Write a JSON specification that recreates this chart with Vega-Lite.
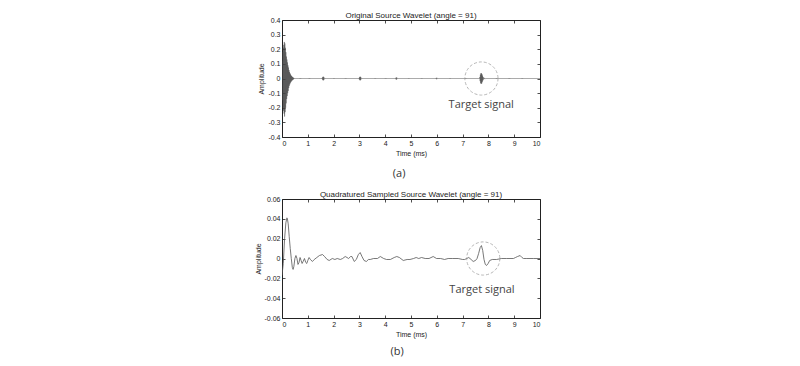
{
  "$schema": "https://vega.github.io/schema/vega-lite/v6.json",
  "padding": {"left": 253, "top": 11, "right": 5, "bottom": 0},
  "background": "white",
  "datasets": {
    "orig": [
      {"t":0.00,"v":0},{"t":0.01,"v":0.12},{"t":0.02,"v":-0.15},{"t":0.03,"v":0.18},{"t":0.04,"v":-0.20},{"t":0.05,"v":0.21},{"t":0.06,"v":-0.22},{"t":0.07,"v":0.23},{"t":0.08,"v":-0.24},{"t":0.09,"v":0.25},{"t":0.10,"v":-0.26},{"t":0.11,"v":0.24},{"t":0.12,"v":-0.23},{"t":0.13,"v":0.21},{"t":0.14,"v":-0.20},{"t":0.15,"v":0.18},{"t":0.16,"v":-0.17},{"t":0.17,"v":0.15},{"t":0.18,"v":-0.14},{"t":0.19,"v":0.13},{"t":0.20,"v":-0.12},{"t":0.21,"v":0.11},{"t":0.22,"v":-0.10},{"t":0.23,"v":0.09},{"t":0.24,"v":-0.085},{"t":0.25,"v":0.075},{"t":0.26,"v":-0.065},{"t":0.27,"v":0.058},{"t":0.28,"v":-0.05},{"t":0.29,"v":0.045},{"t":0.30,"v":-0.04},{"t":0.31,"v":0.036},{"t":0.32,"v":-0.032},{"t":0.33,"v":0.028},{"t":0.34,"v":-0.025},{"t":0.35,"v":0.022},{"t":0.36,"v":-0.02},{"t":0.37,"v":0.017},{"t":0.38,"v":-0.015},{"t":0.39,"v":0.013},{"t":0.40,"v":-0.012},{"t":0.41,"v":0.01},{"t":0.42,"v":-0.009},{"t":0.43,"v":0.007},{"t":0.44,"v":-0.006},{"t":0.45,"v":0.004},{"t":0.46,"v":-0.003},{"t":0.47,"v":0.002},{"t":0.48,"v":0},
      {"t":0.70,"v":0},{"t":0.71,"v":0.003},{"t":0.72,"v":-0.003},{"t":0.73,"v":0},
      {"t":1.05,"v":0},{"t":1.06,"v":0.003},{"t":1.07,"v":-0.003},{"t":1.08,"v":0},
      {"t":1.55,"v":0},{"t":1.56,"v":0.004},{"t":1.57,"v":-0.007},{"t":1.58,"v":0.01},{"t":1.59,"v":-0.012},{"t":1.60,"v":0.013},{"t":1.61,"v":-0.012},{"t":1.62,"v":0.01},{"t":1.63,"v":-0.007},{"t":1.64,"v":0.004},{"t":1.66,"v":0},
      {"t":2.00,"v":0},{"t":2.01,"v":0.003},{"t":2.02,"v":-0.003},{"t":2.03,"v":0},
      {"t":2.45,"v":0},{"t":2.46,"v":0.003},{"t":2.47,"v":-0.003},{"t":2.48,"v":0},
      {"t":2.98,"v":0},{"t":2.99,"v":0.004},{"t":3.00,"v":-0.007},{"t":3.01,"v":0.01},{"t":3.02,"v":-0.012},{"t":3.03,"v":0.013},{"t":3.04,"v":-0.012},{"t":3.05,"v":0.01},{"t":3.06,"v":-0.007},{"t":3.07,"v":0.004},{"t":3.09,"v":0},
      {"t":3.60,"v":0},{"t":3.61,"v":0.003},{"t":3.62,"v":-0.003},{"t":3.63,"v":0},
      {"t":4.00,"v":0},{"t":4.01,"v":0.003},{"t":4.02,"v":-0.003},{"t":4.03,"v":0},
      {"t":4.40,"v":0},{"t":4.41,"v":0.004},{"t":4.42,"v":-0.006},{"t":4.43,"v":0.007},{"t":4.44,"v":-0.007},{"t":4.45,"v":0.006},{"t":4.46,"v":-0.004},{"t":4.48,"v":0},
      {"t":4.90,"v":0},{"t":4.91,"v":0.003},{"t":4.92,"v":-0.003},{"t":4.93,"v":0},
      {"t":5.40,"v":0},{"t":5.41,"v":0.003},{"t":5.42,"v":-0.003},{"t":5.43,"v":0},
      {"t":5.97,"v":0},{"t":5.98,"v":0.004},{"t":5.99,"v":-0.005},{"t":6.00,"v":0.005},{"t":6.01,"v":-0.004},{"t":6.03,"v":0},
      {"t":6.50,"v":0},{"t":6.51,"v":0.003},{"t":6.52,"v":-0.003},{"t":6.53,"v":0},
      {"t":7.10,"v":0},{"t":7.11,"v":0.003},{"t":7.12,"v":-0.003},{"t":7.13,"v":0},
      {"t":7.66,"v":0},{"t":7.67,"v":0.01},{"t":7.68,"v":-0.018},{"t":7.69,"v":0.026},{"t":7.70,"v":-0.032},{"t":7.71,"v":0.036},{"t":7.72,"v":-0.037},{"t":7.73,"v":0.036},{"t":7.74,"v":-0.034},{"t":7.75,"v":0.03},{"t":7.76,"v":-0.025},{"t":7.77,"v":0.02},{"t":7.78,"v":-0.015},{"t":7.79,"v":0.011},{"t":7.80,"v":-0.008},{"t":7.82,"v":0.006},{"t":7.84,"v":-0.004},{"t":7.86,"v":0.003},{"t":7.88,"v":-0.002},{"t":7.90,"v":0},
      {"t":8.30,"v":0},{"t":8.31,"v":0.003},{"t":8.32,"v":-0.003},{"t":8.33,"v":0},
      {"t":8.80,"v":0},{"t":8.81,"v":0.003},{"t":8.82,"v":-0.003},{"t":8.83,"v":0},
      {"t":9.30,"v":0},{"t":9.31,"v":0.003},{"t":9.32,"v":-0.003},{"t":9.33,"v":0},
      {"t":10.0,"v":0}
    ],
    "quad": [
      {"t":0.00,"v":-0.017},{"t":0.05,"v":-0.005},{"t":0.10,"v":0.02},{"t":0.15,"v":0.036},{"t":0.19,"v":0.041},{"t":0.21,"v":0.040},{"t":0.24,"v":0.035},{"t":0.28,"v":0.022},{"t":0.32,"v":0.010},{"t":0.36,"v":0.000},{"t":0.40,"v":-0.009},{"t":0.43,"v":-0.011},{"t":0.46,"v":-0.008},{"t":0.50,"v":0.000},{"t":0.54,"v":0.003},{"t":0.58,"v":0.000},{"t":0.62,"v":-0.006},{"t":0.66,"v":-0.004},{"t":0.70,"v":0.001},{"t":0.74,"v":-0.002},{"t":0.78,"v":-0.005},{"t":0.82,"v":-0.003},{"t":0.87,"v":0.000},{"t":0.92,"v":-0.004},{"t":0.96,"v":-0.005},{"t":1.00,"v":-0.002},{"t":1.05,"v":0.001},{"t":1.10,"v":-0.001},{"t":1.18,"v":-0.003},{"t":1.25,"v":-0.001},{"t":1.35,"v":0.001},{"t":1.45,"v":0.003},{"t":1.57,"v":0.004},{"t":1.65,"v":0.002},{"t":1.75,"v":-0.001},{"t":1.83,"v":-0.002},{"t":1.95,"v":0.000},{"t":2.05,"v":-0.001},{"t":2.14,"v":0.000},{"t":2.26,"v":-0.001},{"t":2.35,"v":0.000},{"t":2.45,"v":0.002},{"t":2.52,"v":0.001},{"t":2.58,"v":0.000},{"t":2.66,"v":0.002},{"t":2.71,"v":0.002},{"t":2.80,"v":-0.003},{"t":2.88,"v":-0.001},{"t":2.96,"v":0.004},{"t":3.03,"v":0.006},{"t":3.10,"v":0.002},{"t":3.18,"v":-0.002},{"t":3.27,"v":-0.003},{"t":3.35,"v":-0.001},{"t":3.42,"v":-0.001},{"t":3.55,"v":0.000},{"t":3.70,"v":0.000},{"t":3.81,"v":0.002},{"t":3.94,"v":0.000},{"t":4.05,"v":-0.001},{"t":4.20,"v":-0.001},{"t":4.35,"v":0.001},{"t":4.45,"v":0.002},{"t":4.55,"v":0.001},{"t":4.70,"v":-0.002},{"t":4.85,"v":-0.001},{"t":4.96,"v":-0.001},{"t":5.10,"v":0.000},{"t":5.20,"v":0.001},{"t":5.30,"v":0.000},{"t":5.41,"v":0.001},{"t":5.55,"v":0.000},{"t":5.70,"v":0.000},{"t":5.86,"v":0.002},{"t":5.99,"v":0.000},{"t":6.15,"v":0.000},{"t":6.30,"v":-0.001},{"t":6.44,"v":0.000},{"t":6.60,"v":0.000},{"t":6.83,"v":0.000},{"t":7.00,"v":-0.001},{"t":7.08,"v":-0.001},{"t":7.24,"v":0.001},{"t":7.33,"v":-0.001},{"t":7.41,"v":-0.003},{"t":7.50,"v":-0.002},{"t":7.56,"v":0.000},{"t":7.62,"v":0.005},{"t":7.68,"v":0.011},{"t":7.73,"v":0.013},{"t":7.78,"v":0.008},{"t":7.83,"v":-0.001},{"t":7.88,"v":-0.006},{"t":7.93,"v":-0.007},{"t":7.99,"v":-0.005},{"t":8.05,"v":-0.002},{"t":8.15,"v":-0.001},{"t":8.32,"v":-0.001},{"t":8.50,"v":0.000},{"t":8.71,"v":0.000},{"t":8.97,"v":0.000},{"t":9.05,"v":0.001},{"t":9.13,"v":0.002},{"t":9.23,"v":0.003},{"t":9.30,"v":0.001},{"t":9.36,"v":0.000},{"t":9.49,"v":0.000},{"t":9.74,"v":0.000},{"t":10.0,"v":0.000}
    ],
    "ann_a": [{"t":7.73,"v":0,"tx":7.72,"ty":-0.18,"label":"Target signal"}],
    "ann_b": [{"t":7.8,"v":0,"tx":7.75,"ty":-0.032,"label":"Target signal"}]
  },
  "vconcat": [
    {
      "title": {"text": "(a)", "orient": "bottom", "anchor": "middle", "font": "Open Sans", "fontSize": 11, "fontWeight": "normal", "color": "#333", "offset": 11},
      "vconcat": [
        {
          "title": {"text": "Original Source Wavelet (angle = 91)"},
          "width": 258,
          "height": 117,
          "layer": [
            {
              "data": {"name": "orig"},
              "mark": {"type": "line", "color": "#444", "strokeWidth": 0.45, "clip": true},
              "encoding": {
                "x": {"field": "t", "type": "quantitative", "scale": {"domain": [0, 10], "nice": false},
                      "axis": {"orient": "bottom", "title": "Time (ms)", "values": [0,1,2,3,4,5,6,7,8,9,10]}},
                "y": {"field": "v", "type": "quantitative", "scale": {"domain": [-0.4, 0.4], "nice": false},
                      "axis": {"orient": "left", "title": "Amplitude", "values": [-0.4,-0.3,-0.2,-0.1,0,0.1,0.2,0.3,0.4], "format": ".1~f", "labelExpr": "replace(datum.label, '\u2212', '-')"}}
              }
            },
            {
              "data": {"name": "ann_a"},
              "mark": {"type": "point", "shape": "circle", "size": 1100, "filled": false, "stroke": "#999", "strokeWidth": 1, "strokeDash": [3, 2]},
              "encoding": {
                "x": {"field": "t", "type": "quantitative", "axis": {"orient": "top", "labels": false, "title": null, "labelPadding": 0, "minExtent": 0, "maxExtent": 0, "values": [0,1,2,3,4,5,6,7,8,9,10]}},
                "y": {"field": "v", "type": "quantitative", "axis": {"orient": "right", "labels": false, "title": null, "labelPadding": 0, "minExtent": 0, "maxExtent": 0, "values": [-0.4,-0.3,-0.2,-0.1,0,0.1,0.2,0.3,0.4]}}
              }
            },
            {
              "data": {"name": "ann_a"},
              "mark": {"type": "text", "font": "Open Sans", "fontSize": 11, "color": "#444"},
              "encoding": {
                "x": {"field": "tx", "type": "quantitative", "axis": null},
                "y": {"field": "ty", "type": "quantitative", "axis": null},
                "text": {"field": "label"}
              }
            }
          ],
          "resolve": {"axis": {"x": "independent", "y": "independent"}}
        }
      ]
    },
    {
      "title": {"text": "(b)", "orient": "bottom", "anchor": "middle", "font": "Open Sans", "fontSize": 11, "fontWeight": "normal", "color": "#333", "offset": 8},
      "vconcat": [
        {
          "title": {"text": "Quadratured Sampled Source Wavelet (angle = 91)"},
          "width": 258,
          "height": 119,
          "layer": [
            {
              "data": {"name": "quad"},
              "mark": {"type": "line", "color": "#555", "strokeWidth": 0.8, "clip": true},
              "encoding": {
                "x": {"field": "t", "type": "quantitative", "scale": {"domain": [0, 10], "nice": false},
                      "axis": {"orient": "bottom", "title": "Time (ms)", "values": [0,1,2,3,4,5,6,7,8,9,10]}},
                "y": {"field": "v", "type": "quantitative", "scale": {"domain": [-0.06, 0.06], "nice": false},
                      "axis": {"orient": "left", "title": "Amplitude", "values": [-0.06,-0.04,-0.02,0,0.02,0.04,0.06], "format": ".2~f", "labelExpr": "replace(datum.label, '\u2212', '-')"}}
              }
            },
            {
              "data": {"name": "ann_b"},
              "mark": {"type": "point", "shape": "circle", "size": 1100, "filled": false, "stroke": "#999", "strokeWidth": 1, "strokeDash": [3, 2]},
              "encoding": {
                "x": {"field": "t", "type": "quantitative", "axis": {"orient": "top", "labels": false, "title": null, "labelPadding": 0, "minExtent": 0, "maxExtent": 0, "values": [0,1,2,3,4,5,6,7,8,9,10]}},
                "y": {"field": "v", "type": "quantitative", "axis": {"orient": "right", "labels": false, "title": null, "labelPadding": 0, "minExtent": 0, "maxExtent": 0, "values": [-0.06,-0.04,-0.02,0,0.02,0.04,0.06]}}
              }
            },
            {
              "data": {"name": "ann_b"},
              "mark": {"type": "text", "font": "Open Sans", "fontSize": 11, "color": "#444"},
              "encoding": {
                "x": {"field": "tx", "type": "quantitative", "axis": null},
                "y": {"field": "ty", "type": "quantitative", "axis": null},
                "text": {"field": "label"}
              }
            }
          ],
          "resolve": {"axis": {"x": "independent", "y": "independent"}}
        }
      ]
    }
  ],
  "spacing": 11,
  "config": {
    "view": {"stroke": "#222", "strokeWidth": 1},
    "concat": {"spacing": 0},
    "title": {"font": "Liberation Sans", "fontSize": 8, "fontWeight": "normal", "color": "#222", "offset": -4},
    "axis": {
      "domain": false,
      "grid": false,
      "ticks": true,
      "tickSize": -3,
      "tickColor": "#222",
      "tickWidth": 0.8,
      "labelFont": "Liberation Sans",
      "labelFontSize": 7,
      "labelColor": "#222",
      "labelPadding": 5,
      "titleFont": "Liberation Sans",
      "titleFontSize": 7,
      "titleFontWeight": "normal",
      "titleColor": "#222",
      "titlePadding": 3
    }
  }
}
